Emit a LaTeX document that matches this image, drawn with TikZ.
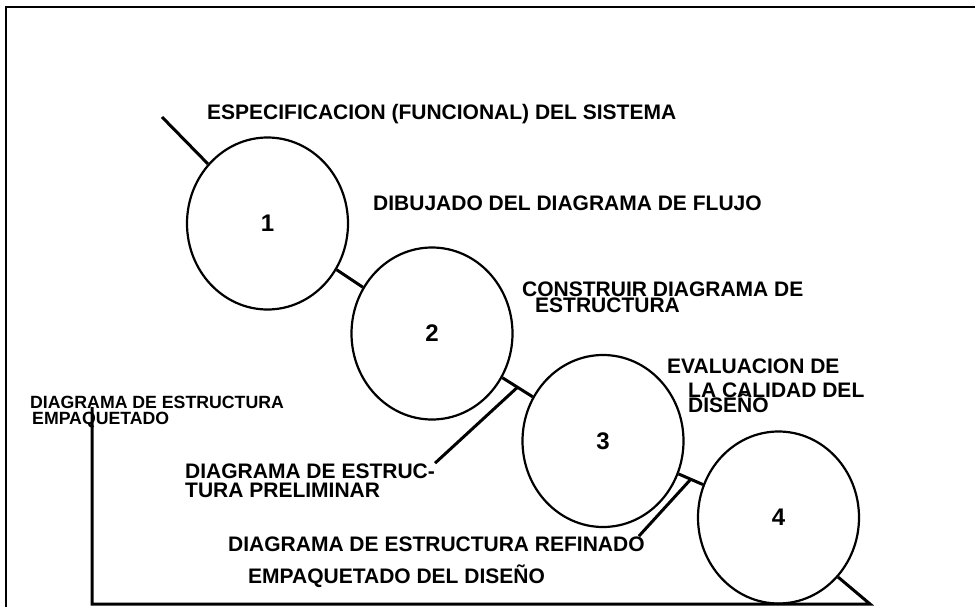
\documentclass[tikz,border=0pt]{standalone}
\usepackage{fontspec}
\setmainfont{Liberation Sans}
\usetikzlibrary{shapes.geometric}

\begin{document}
\begin{tikzpicture}[
  x=1pt,
  y=-1pt,
  proc/.style={draw, ellipse, line width=2.2pt, minimum width=161pt, minimum height=172pt, inner sep=0pt, font=\fontsize{24}{24}\selectfont\bfseries},
  lbl/.style={anchor=base west, align=left, inner sep=0pt, font=\fontsize{21}{19}\selectfont\bfseries},
  flow/.style={line width=3pt}
]
  \useasboundingbox (0,0) rectangle (975,607);
  \draw[line width=1.8pt] (6,607) -- (6,7) -- (975,7);

  \node[proc] (c1) at (267.5,223.5) {1};
  \node[proc] (c2) at (432,333.5) {2};
  \node[proc] (c3) at (603,441) {3};
  \node[proc] (c4) at (778.5,517.5) {4};

  \node[lbl] (spec) at (207,120) {ESPECIFICACION (FUNCIONAL) DEL SISTEMA};
  \node[lbl] (dib) at (373,210) {DIBUJADO DEL DIAGRAMA DE FLUJO};
  \node[lbl, font=\fontsize{21}{12}\selectfont\bfseries] (cons) at (522,312) {CONSTRUIR DIAGRAMA DE\\\hspace*{13pt}ESTRUCTURA};
  \node[lbl] (eval) at (667,412) {EVALUACION DE\\[5pt]\hspace*{21pt}LA CALIDAD DEL\\[-4pt]\hspace*{21pt}DISEÑO};
  \node[lbl, font=\fontsize{17.7}{16}\selectfont\bfseries] (emp) at (30,424) {DIAGRAMA DE ESTRUCTURA\\\hspace*{2pt}EMPAQUETADO};
  \node[lbl] (pre) at (185,497) {DIAGRAMA DE ESTRUC-\\TURA PRELIMINAR};
  \node[lbl] (ref) at (228,551) {DIAGRAMA DE ESTRUCTURA REFINADO};
  \node[lbl] (pkg) at (248,583) {EMPAQUETADO DEL DISEÑO};

  \coordinate (in) at (162,117);
  \coordinate (out) at (870,604);
  \coordinate (turn) at (92,604);
  \coordinate (back) at (92,407);

  \draw[flow] (in) -- (c1.135);
  \draw[flow] (c1) -- (c2);
  \draw[flow] (c2) -- coordinate[midway] (m23) (c3);
  \draw[flow] (c3) -- coordinate[midway] (m34) (c4);
  \draw[flow] (m23) -- (pre.north east);
  \draw[flow] (m34) -- ([xshift=-6pt]ref.north east);
  \draw[flow] (c4.-45) -- (out) -- (turn) -- (back);
\end{tikzpicture}
\end{document}
